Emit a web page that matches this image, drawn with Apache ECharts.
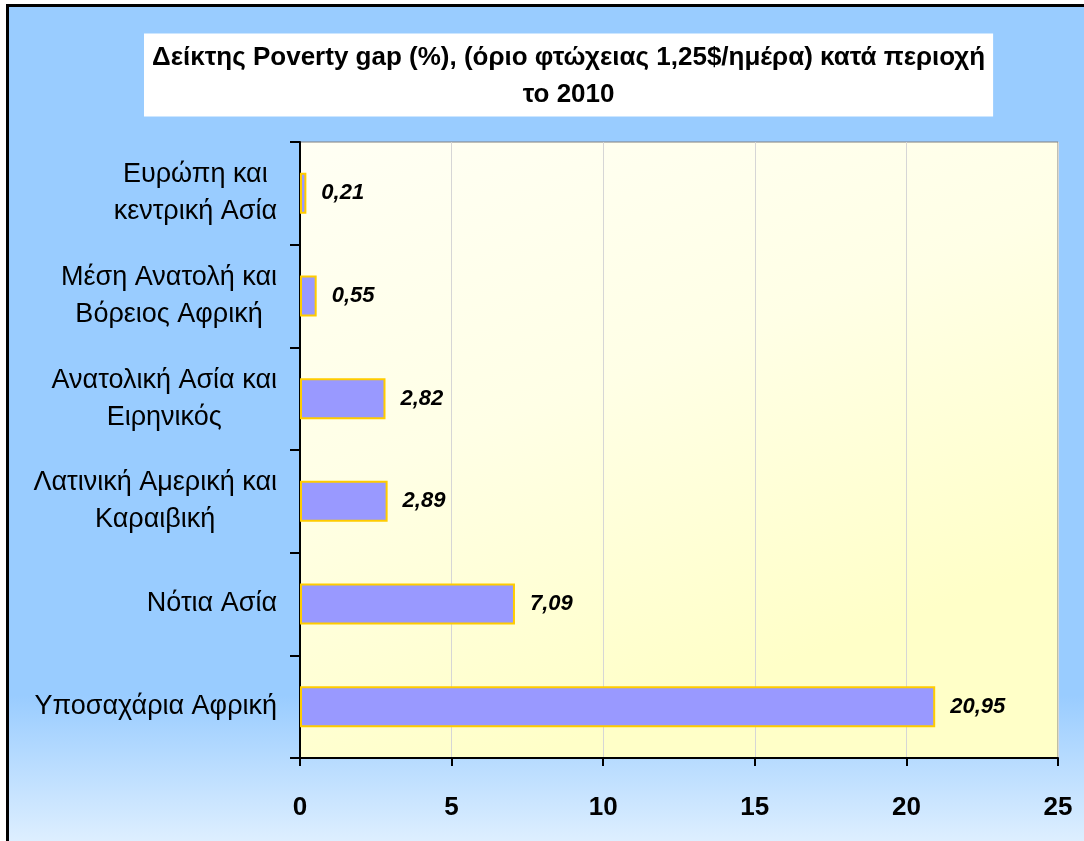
<!DOCTYPE html>
<html lang="el">
<head>
    <meta charset="UTF-8">
    <title>Poverty gap</title>
    <style>
        body {
            margin: 0;
            padding: 0;
            background-color: #fff;
            overflow: hidden;
        }
        .frame {
            position: absolute;
            left: 6px;
            top: 4px;
            width: 1100px;
            height: 840px;
            border-left: 3px solid #000;
            border-top: 3px solid #000;
            background: linear-gradient(to bottom, #99ccff 0%, #99ccff 82%, #e0f0ff 100%);
        }
        #main {
            position: absolute;
            left: 0;
            top: 0;
            width: 1084px;
            height: 841px;
        }
    </style>
</head>
<body>
<div class="frame"></div>
<div id="main"></div>

<script src="https://cdn.jsdelivr.net/npm/echarts@6/dist/echarts.min.js"></script>
<script>
    const titleLines = [
        'Δείκτης Poverty gap (%), (όριο φτώχειας 1,25$/ημέρα) κατά περιοχή',
        'το 2010'
    ];

    // top to bottom
    const categories = [
        'Ευρώπη και\nκεντρική Ασία',
        'Μέση Ανατολή και\nΒόρειος Αφρική',
        'Ανατολική Ασία και\nΕιρηνικός',
        'Λατινική Αμερική και\nΚαραιβική',
        'Νότια Ασία',
        'Υποσαχάρια Αφρική'
    ];
    const values = [0.21, 0.55, 2.82, 2.89, 7.09, 20.95];

    const xMin = 0;
    const xMax = 25;
    const xStep = 5;

    const font = "'Liberation Sans', Arial, sans-serif";

    const myChart = echarts.init(document.getElementById('main'));

    const option = {
        backgroundColor: 'transparent',
        title: {
            text: titleLines.map(s => '{t|' + s + '}').join('\n'),
            left: 144,
            top: 28,
            backgroundColor: '#fff',
            padding: [11, 8, 9, 8],
            textStyle: {
                rich: {
                    t: {
                        align: 'center',
                        fontFamily: font,
                        fontSize: 26,
                        fontWeight: 'bold',
                        color: '#000',
                        lineHeight: 37
                    }
                }
            }
        },
        grid: {
            left: 300,
            right: 26,
            top: 142,
            bottom: 83,
            show: true,
            borderColor: '#808080',
            borderWidth: 1,
            backgroundColor: new echarts.graphic.LinearGradient(0, 0, 0.3, 1, [
                { offset: 0, color: '#fffff4' },
                { offset: 0.5, color: '#ffffe6' },
                { offset: 1, color: '#ffffc8' }
            ])
        },
        xAxis: {
            type: 'value',
            min: xMin,
            max: xMax,
            interval: xStep,
            axisLine: { show: true, lineStyle: { color: '#000', width: 2 } },
            axisTick: { show: true, length: 8, lineStyle: { color: '#000', width: 2 } },
            splitLine: { show: true, lineStyle: { color: '#d6d6d6', width: 1 } },
            axisLabel: {
                margin: 37,
                fontFamily: font,
                fontSize: 26,
                fontWeight: 'bold',
                color: '#000'
            }
        },
        yAxis: {
            type: 'category',
            data: categories,
            inverse: true,
            axisLine: { show: true, lineStyle: { color: '#000', width: 2 } },
            axisTick: { show: true, length: 10, lineStyle: { color: '#000', width: 2 } },
            splitLine: { show: false },
            axisLabel: {
                margin: 23,
                align: 'right',
                formatter: function (v) {
                    return v.split('\n').map(s => '{c|' + s + '}').join('\n');
                },
                rich: {
                    c: {
                        align: 'center',
                        fontFamily: font,
                        fontSize: 27,
                        lineHeight: 37,
                        color: '#000'
                    }
                }
            }
        },
        series: [
            {
                type: 'bar',
                data: values,
                barCategoryGap: '60%',
                itemStyle: {
                    color: '#9999ff',
                    borderColor: '#ffcc00',
                    borderWidth: 2
                },
                label: {
                    show: true,
                    position: 'right',
                    distance: 15,
                    formatter: p => p.value.toFixed(2).replace('.', ','),
                    fontFamily: font,
                    fontSize: 22,
                    fontWeight: 'bold',
                    fontStyle: 'italic',
                    color: '#000'
                }
            }
        ]
    };

    myChart.setOption(option);
</script>
</body>
</html>
